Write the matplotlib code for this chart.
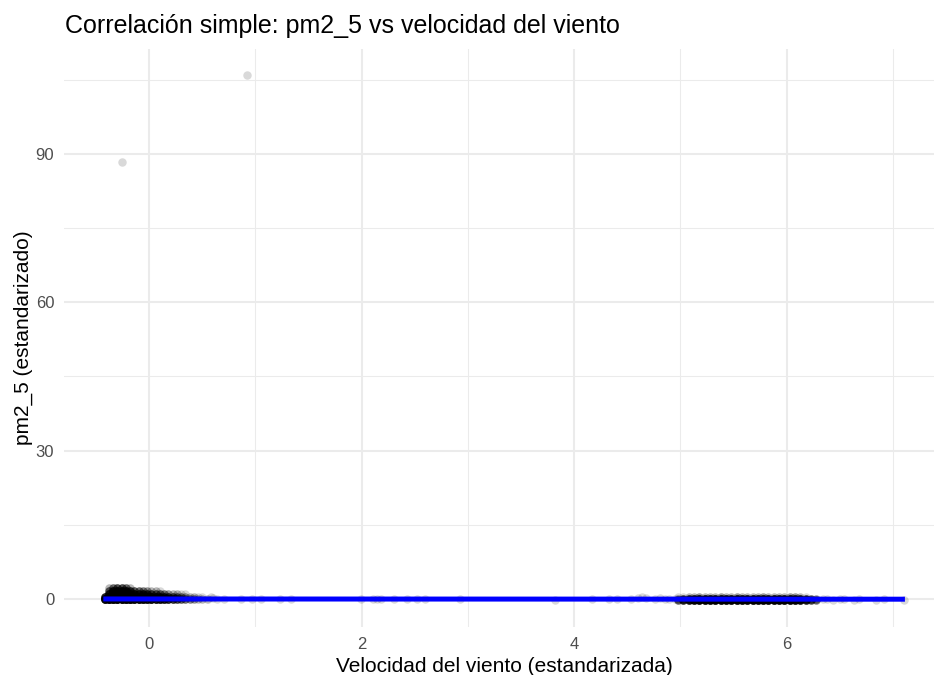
import numpy as np
import matplotlib
matplotlib.use("Agg")
import matplotlib.pyplot as plt

plt.rcParams['font.family'] = ['Liberation Sans', 'DejaVu Sans']

# ---------------- data ----------------
title = "Correlación simple: pm2_5 vs velocidad del viento"
x_label = "Velocidad del viento (estandarizada)"
y_label = "pm2_5 (estandarizado)"

x_ticks = [0, 2, 4, 6]
x_minor = [1, 3, 5, 7]
y_ticks = [0, 30, 60, 90]
y_minor = [15, 45, 75, 105]

# outliers
outlier_x = [-0.257, 0.92]
outlier_y = [88.4, 106.0]

# dense cluster near low wind speed: x positions, row heights, counts of observations
left_x = [-0.42, -0.38, -0.34, -0.30, -0.26, -0.22, -0.18, -0.14, -0.10, -0.06,
          -0.02, 0.02, 0.06, 0.10, 0.14, 0.18, 0.22, 0.26, 0.30, 0.34,
          0.38, 0.42, 0.46, 0.50, 0.54, 0.58]
left_rows_y = [-0.1, 0.4, 1.0, 1.6, 2.2]
left_counts = [
    [20, 24, 24, 24, 24, 24, 24, 20, 20, 20, 18, 18, 16, 16, 14, 12, 10, 8, 6, 5, 4, 3, 2, 1, 1, 0],
    [12, 24, 24, 24, 24, 24, 20, 20, 18, 18, 16, 16, 14, 12, 10, 9, 7, 5, 4, 3, 2, 2, 1, 1, 0, 1],
    [0, 12, 16, 16, 16, 14, 12, 12, 10, 10, 8, 7, 6, 5, 4, 3, 2, 2, 1, 1, 0, 0, 0, 0, 0, 0],
    [0, 6, 12, 14, 14, 12, 8, 6, 5, 4, 3, 2, 2, 1, 0, 0, 0, 0, 0, 0, 0, 0, 0, 0, 0, 0],
    [0, 2, 5, 7, 7, 5, 2, 0, 0, 0, 0, 0, 0, 0, 0, 0, 0, 0, 0, 0, 0, 0, 0, 0, 0, 0],
]

# dense cluster near high wind speed
right_x = [4.98, 5.03, 5.08, 5.13, 5.18, 5.23, 5.28, 5.33, 5.38, 5.43, 5.48, 5.53, 5.58, 5.63,
           5.68, 5.73, 5.78, 5.83, 5.88, 5.93, 5.98, 6.03, 6.08, 6.13, 6.18, 6.23, 6.28]
right_rows_y = [-0.3, 0.0, 0.4]
right_counts = [
    [5, 9, 12, 14, 16, 16, 16, 16, 16, 16, 16, 16, 16, 16, 16, 16, 16, 16, 16, 16, 16, 16, 15, 13, 10, 6, 4],
    [3, 7, 10, 12, 14, 14, 14, 14, 14, 14, 14, 14, 14, 14, 14, 14, 14, 14, 14, 14, 14, 14, 12, 11, 8, 5, 3],
    [1, 1, 2, 2, 3, 2, 2, 2, 3, 2, 2, 3, 2, 2, 2, 2, 3, 2, 2, 2, 2, 3, 3, 2, 1, 0, 0],
]

# scattered single observations
sparse_x = [0.50, 0.55, 0.60, 0.64, 0.70, 0.86, 0.97, 1.05, 1.23, 1.33, 1.99, 2.11, 2.14,
            2.18, 2.30, 2.43, 2.52, 2.60, 2.93, 3.82, 4.17, 4.33, 4.40, 4.54, 4.60, 4.64,
            4.68, 4.76, 4.81, 4.86, 4.89, 4.95, 6.34, 6.38, 6.44, 6.50, 6.54, 6.64, 6.68,
            6.84, 6.92, 7.11]
sparse_y = [0.1, -0.1, 0.2, 0.0, 0.1, 0.0, 0.0, -0.1, 0.0, -0.1, 0.0, 0.1, -0.1,
            0.0, 0.0, 0.0, 0.1, 0.0, -0.1, -0.2, -0.1, 0.0, -0.1, 0.1, 0.3, 0.5,
            0.2, 0.0, 0.2, -0.1, 0.1, 0.0, -0.1, 0.1, -0.2, -0.1, 0.0, -0.2, -0.1,
            -0.2, -0.1, -0.2]

# fitted linear trend (end points)
fit_x = [-0.433, 7.115]
fit_y = [0.01, -0.04]

# ---------------- assemble observations ----------------
def expand(xs, rows_y, counts):
    px, py = [], []
    for ry, row in zip(rows_y, counts):
        rx = np.repeat(np.array(xs), np.array(row))
        px.append(rx)
        py.append(np.full(len(rx), ry))
    return np.concatenate(px), np.concatenate(py)

lx, ly = expand(left_x, left_rows_y, left_counts)
rx, ry = expand(right_x, right_rows_y, right_counts)
all_x = np.concatenate([lx, rx, np.array(sparse_x), np.array(outlier_x)])
all_y = np.concatenate([ly, ry, np.array(sparse_y), np.array(outlier_y)])

# ---------------- figure ----------------
W, H = 934, 675
fig = plt.figure(figsize=(W / 100, H / 100), dpi=100)
ax = fig.add_axes([64 / W, 1 - 627 / H, 880 / W, 578 / H])
ax.set_xlim(-0.803, 7.483)
ax.set_ylim(-5.66, 111.2)

for s in ax.spines.values():
    s.set_visible(False)

ax.set_xticks(x_ticks)
ax.set_xticks(x_minor, minor=True)
ax.set_yticks(y_ticks)
ax.set_yticks(y_minor, minor=True)
ax.set_xticklabels([str(t) for t in x_ticks])
ax.set_yticklabels([str(t) for t in y_ticks])
ax.grid(which='major', color='#EBEBEB', linewidth=1.5)
ax.grid(which='minor', color='#EBEBEB', linewidth=0.75)
ax.set_axisbelow(True)
ax.tick_params(which='both', length=0)
ax.tick_params(axis='x', labelsize=12, labelcolor='#4D4D4D', pad=7)
ax.tick_params(axis='y', labelsize=12, labelcolor='#4D4D4D', pad=7)

ax.scatter(all_x, all_y, s=37, c='black', alpha=0.15, linewidths=0, zorder=2)
ax.plot(fit_x, fit_y, color='#0000FF', linewidth=3.6, solid_capstyle='butt', zorder=3)

fig.text(65 / W, 1 - 33 / H, title, fontsize=18, color='black', ha='left', va='baseline')
fig.text(504 / W, 1 - 672 / H, x_label, fontsize=15, color='black', ha='center', va='baseline')
fig.text(23 / W, 1 - 338 / H, y_label, fontsize=15, color='black', ha='center', va='center',
         rotation=90)

fig.savefig("out.png", dpi=100)
